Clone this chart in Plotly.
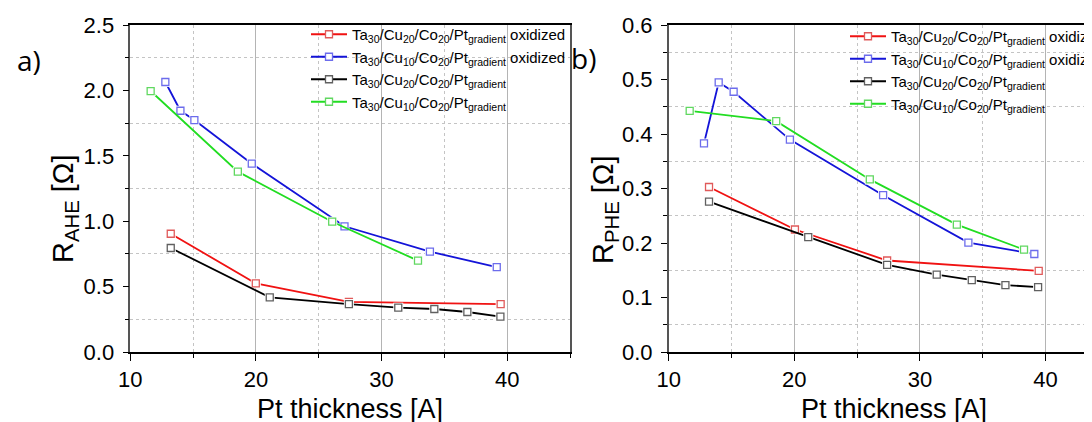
import plotly.graph_objects as go

# a) anomalous Hall resistance vs Pt thickness
a_red_x = [13.22, 19.99, 27.40, 39.48]
a_red_y = [0.905, 0.525, 0.383, 0.367]
a_blue_x = [12.79, 13.99, 15.10, 19.67, 27.05, 33.85, 39.17]
a_blue_y = [2.066, 1.846, 1.775, 1.441, 0.962, 0.768, 0.650]
a_black_x = [13.22, 21.10, 27.40, 31.33, 34.20, 36.83, 39.46]
a_black_y = [0.796, 0.418, 0.367, 0.339, 0.329, 0.306, 0.270]
a_green_x = [11.62, 18.56, 26.07, 32.90]
a_green_y = [1.997, 1.380, 0.997, 0.699]

# b) planar Hall resistance vs Pt thickness
b_red_x = [13.21, 20.05, 27.39, 39.46]
b_red_y = [0.303, 0.225, 0.168, 0.149]
b_blue_x = [12.81, 13.98, 15.17, 19.65, 27.07, 33.86, 39.11]
b_blue_y = [0.383, 0.495, 0.478, 0.390, 0.288, 0.201, 0.180]
b_black_x = [13.21, 21.11, 27.39, 31.34, 34.13, 36.81, 39.41]
b_black_y = [0.276, 0.211, 0.160, 0.142, 0.132, 0.123, 0.119]
b_green_x = [11.67, 18.56, 26.01, 32.94, 38.29]
b_green_y = [0.443, 0.424, 0.317, 0.234, 0.188]

series_names = [
    "Ta<sub>30</sub>/Cu<sub>20</sub>/Co<sub>20</sub>/Pt<sub>gradient</sub> oxidized",
    "Ta<sub>30</sub>/Cu<sub>10</sub>/Co<sub>20</sub>/Pt<sub>gradient</sub> oxidized",
    "Ta<sub>30</sub>/Cu<sub>20</sub>/Co<sub>20</sub>/Pt<sub>gradient</sub>",
    "Ta<sub>30</sub>/Cu<sub>10</sub>/Co<sub>20</sub>/Pt<sub>gradient</sub>",
]
line_colors = ["#f01212", "#1414d8", "#000000", "#22dd22"]
marker_colors = ["#e05a5a", "#6c6cec", "#606060", "#60d860"]

FONT = "Liberation Sans, Arial, sans-serif"


def add_series(fig, x, y, i, xa, ya, legend):
    # line, white gap under the marker, then the open square (Origin style)
    fig.add_trace(go.Scatter(x=x, y=y, mode="lines", xaxis=xa, yaxis=ya,
                             line=dict(color=line_colors[i], width=1.8),
                             showlegend=False, hoverinfo="skip"))
    fig.add_trace(go.Scatter(x=x, y=y, mode="markers", xaxis=xa, yaxis=ya,
                             marker=dict(symbol="square", size=10, color="white"),
                             showlegend=False, hoverinfo="skip"))
    fig.add_trace(go.Scatter(x=x, y=y, mode="markers", xaxis=xa, yaxis=ya,
                             marker=dict(symbol="square-open", size=7,
                                         color=marker_colors[i],
                                         line=dict(width=1.3)),
                             showlegend=False))
    # legend entry
    fig.add_trace(go.Scatter(x=[None], y=[None], mode="lines+markers",
                             xaxis=xa, yaxis=ya, name=series_names[i],
                             legend=legend,
                             line=dict(color=line_colors[i], width=1.8),
                             marker=dict(symbol="square", size=7, color="white",
                                         line=dict(color=marker_colors[i], width=1.3))))


fig = go.Figure()
for i, (x, y) in enumerate([(a_red_x, a_red_y), (a_blue_x, a_blue_y),
                            (a_black_x, a_black_y), (a_green_x, a_green_y)]):
    add_series(fig, x, y, i, "x", "y", "legend")
for i, (x, y) in enumerate([(b_red_x, b_red_y), (b_blue_x, b_blue_y),
                            (b_black_x, b_black_y), (b_green_x, b_green_y)]):
    add_series(fig, x, y, i, "x2", "y2", "legend2")

W, H = 1092, 422


def xaxis(domain, rng, mirror):
    return dict(domain=domain, range=rng, tick0=10, dtick=10,
                showgrid=True, gridcolor="#b4b4b4", gridwidth=1,
                minor=dict(dtick=5, showgrid=True, griddash="dot",
                           gridcolor="#c4c4c4", ticks="outside", ticklen=4,
                           tickcolor="#000"),
                ticks="outside", ticklen=7, tickcolor="#000",
                showline=True, linecolor="#000", linewidth=1.5, mirror=mirror,
                zeroline=False, automargin=False,
                tickfont=dict(size=22, color="#000", family=FONT))


def yaxis(rng, dtick, mirror, anchor):
    return dict(domain=[1 - 344 / H, 1 - 17.3 / H], range=rng, dtick=dtick,
                tickformat=".1f", showgrid=False,
                minor=dict(tick0=dtick / 2, dtick=dtick, showgrid=True,
                           griddash="dot", gridcolor="#c4c4c4",
                           ticks="outside", ticklen=4, tickcolor="#000"),
                ticks="outside", ticklen=6, tickcolor="#000",
                ticklabelstandoff=4,
                showline=True, linecolor="#555", linewidth=1.5, mirror=mirror,
                zeroline=False, anchor=anchor, automargin=False,
                tickfont=dict(size=22, color="#000", family=FONT))


fig.update_layout(
    width=W, height=H,
    margin=dict(l=0, r=0, t=0, b=0, autoexpand=False),
    paper_bgcolor="white", plot_bgcolor="white",
    font=dict(family=FONT, color="#000"),
    xaxis=xaxis([122.3 / W, 562 / W], [10, 45], True) | dict(anchor="y"),
    yaxis=yaxis([0, 2.5], 0.5, True, "x"),
    xaxis2=xaxis([660.7 / W, 1.0], [10, 10 + (W - 660.7) / 12.56], True) | dict(anchor="y2"),
    yaxis2=yaxis([0, 0.6], 0.1, False, "x2"),
    legend=dict(x=298 / W, y=1 - 10 / H, xanchor="left", yanchor="top",
                bgcolor="rgba(0,0,0,0)", font=dict(size=15, family=FONT),
                itemwidth=36, tracegroupgap=0),
    legend2=dict(x=837 / W, y=1 - 12 / H, xanchor="left", yanchor="top",
                 bgcolor="rgba(0,0,0,0)", font=dict(size=15, family=FONT),
                 itemwidth=36, tracegroupgap=0),
    showlegend=True,
)

titles = [
    ("Pt thickness [A]", 342, 401, 0, 27),
    ("Pt thickness [A]", 885.6, 401, 0, 27),
    ("R<sub>AHE</sub> [Ω]", 57, 201, -90, 29),
    ("R<sub>PHE</sub> [Ω]", 597, 201, -90, 29),
]
for text, px, py, ang, size in titles:
    fig.add_annotation(text=text, x=px / W, y=1 - py / H, xref="paper", yref="paper",
                       showarrow=False, textangle=ang, xanchor="center", yanchor="middle",
                       font=dict(size=size, family=FONT, color="#000"))

for text, px, py in [("a)", 21, 52), ("b)", 575, 50)]:
    fig.add_annotation(text=text, x=px / W, y=1 - py / H, xref="paper", yref="paper",
                       showarrow=False, xanchor="center", yanchor="middle",
                       font=dict(size=28, family="Open Sans, sans-serif", color="#000"))

fig.write_html("out.html")
